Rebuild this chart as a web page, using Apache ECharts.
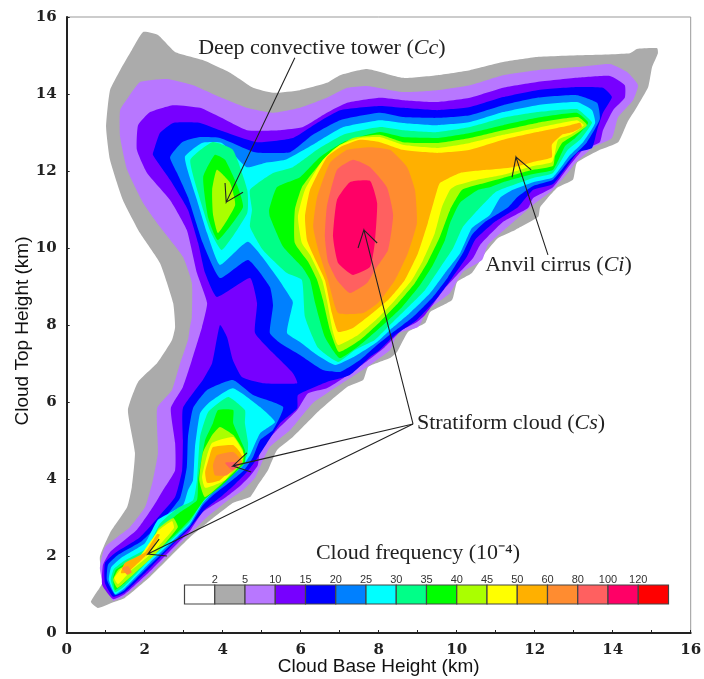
<!DOCTYPE html>
<html><head><meta charset="utf-8">
<style>html,body{margin:0;padding:0;background:#fff}#c{width:704px;height:679px}</style>
<script src="https://cdn.jsdelivr.net/npm/echarts@6/dist/echarts.min.js"></script>
</head><body><div id="c"></div>
<script>
// Isolines, as [cloud base km, cloud top km]
const contour2=[[1.96,15.61],[2.34,15.53],[2.78,15.09],[3.49,14.88],[4.19,14.55],[4.78,14.16],[5.29,14.03],[5.98,14.10],[6.67,14.29],[7.01,14.49],[7.70,14.65],[8.62,14.42],[9.50,14.49],[10.34,14.62],[11.19,14.83],[12.06,14.96],[13.34,15.01],[14.44,15.06],[14.62,15.17],[15.14,15.19],[15.16,15.06],[15.01,14.70],[14.91,14.18],[14.62,13.66],[14.37,13.25],[14.14,12.75],[13.67,12.55],[13.08,12.21],[12.98,11.77],[12.57,11.56],[12.14,11.06],[12.09,10.81],[11.50,10.47],[11.06,10.26],[10.73,9.87],[10.39,9.35],[10.01,9.12],[9.88,8.65],[9.32,8.34],[9.19,8.05],[8.75,7.82],[8.47,7.30],[8.29,7.14],[7.73,6.91],[7.60,6.57],[7.19,6.39],[6.49,5.79],[5.80,5.09],[5.39,4.75],[5.16,4.23],[4.90,3.84],[4.70,3.53],[4.27,3.38],[3.60,2.86],[3.16,2.49],[2.85,2.18],[2.14,1.46],[1.49,0.91],[1.19,0.80],[0.80,0.65],[0.62,0.81],[0.91,1.30],[0.85,1.97],[1.11,2.60],[1.55,3.27],[1.67,3.79],[1.75,4.68],[1.57,5.79],[1.83,6.52],[2.32,7.01],[2.70,7.61],[2.78,7.95],[2.73,8.57],[2.39,9.61],[1.88,10.39],[1.44,11.25],[1.11,12.29],[1.01,13.14],[1.11,14.10],[1.37,14.62],[1.67,15.14]];
const contour5=[[1.57,13.90],[1.88,14.31],[2.57,14.39],[3.24,14.23],[3.93,13.92],[4.62,13.64],[5.29,13.51],[5.98,13.64],[6.67,13.90],[7.19,14.16],[7.70,14.21],[8.62,14.05],[9.50,14.10],[10.34,14.23],[11.19,14.49],[12.06,14.62],[13.08,14.70],[13.93,14.78],[14.37,14.57],[14.65,14.23],[14.52,13.84],[14.14,13.40],[13.98,12.86],[13.50,12.62],[13.04,12.21],[12.91,12.03],[12.47,11.51],[11.96,11.12],[11.42,10.65],[10.80,10.08],[10.65,9.69],[10.16,9.38],[9.83,8.83],[9.26,8.39],[9.01,7.95],[8.50,7.79],[8.29,7.35],[7.70,6.91],[7.19,6.57],[6.31,5.97],[5.73,5.27],[5.21,4.83],[5.01,4.44],[4.83,4.03],[4.52,3.71],[4.14,3.45],[3.60,3.01],[3.16,2.57],[2.85,2.26],[2.14,1.53],[1.49,0.96],[1.19,0.84],[0.93,1.30],[0.85,1.69],[0.98,2.23],[1.62,2.75],[2.01,3.27],[2.21,3.97],[2.34,4.68],[2.32,5.84],[2.70,6.31],[2.91,7.01],[3.11,7.61],[3.16,7.95],[3.21,8.21],[3.21,9.09],[2.98,9.77],[2.39,10.55],[1.96,11.17],[1.55,12.03],[1.37,12.88],[1.37,13.58]];
const contour10=[[1.83,13.19],[2.14,13.53],[2.73,13.71],[3.42,13.64],[3.93,13.40],[4.62,13.06],[5.47,13.06],[6.06,13.14],[6.67,13.51],[7.19,13.77],[8.03,13.90],[8.62,13.84],[9.50,13.79],[10.34,13.90],[11.19,14.16],[12.06,14.31],[13.08,14.42],[13.93,14.47],[14.31,14.23],[14.31,13.90],[14.01,13.58],[13.75,13.06],[13.67,12.75],[13.24,12.55],[12.91,12.16],[12.47,11.58],[11.96,11.30],[11.83,11.04],[11.19,10.68],[10.60,10.08],[10.42,9.74],[10.01,9.30],[9.70,8.96],[9.19,8.26],[8.98,8.08],[8.60,7.87],[8.11,7.38],[7.70,7.06],[7.09,6.62],[6.67,6.36],[6.19,6.23],[5.91,5.79],[5.39,5.27],[4.96,4.75],[4.90,4.36],[4.70,4.08],[4.39,3.77],[4.06,3.51],[3.49,3.14],[3.16,2.65],[2.85,2.34],[2.14,1.61],[1.49,1.01],[1.19,0.88],[0.91,1.25],[0.93,1.77],[1.11,2.10],[1.80,2.68],[2.21,3.27],[2.47,3.71],[2.78,4.23],[2.78,4.94],[2.67,5.84],[2.98,6.39],[3.21,7.09],[3.47,7.95],[3.60,8.57],[3.34,9.35],[3.08,10.47],[2.65,11.25],[2.06,11.95],[1.80,12.55]];
const contour15=[[2.21,12.42],[2.26,12.62],[2.39,12.99],[2.73,13.25],[3.42,13.25],[3.93,13.06],[4.88,12.75],[5.80,12.86],[6.42,13.25],[7.01,13.58],[8.03,13.69],[8.62,13.64],[9.50,13.58],[10.34,13.66],[11.19,13.92],[12.06,14.10],[13.08,14.18],[13.75,14.16],[13.98,13.92],[13.75,13.51],[13.60,13.06],[13.47,12.60],[13.11,12.49],[12.91,12.23],[12.47,11.66],[11.96,11.51],[11.57,11.06],[10.98,10.68],[10.47,10.21],[10.26,9.77],[9.88,9.22],[9.50,8.70],[8.98,8.13],[8.42,7.74],[8.03,7.35],[7.78,7.17],[7.26,6.70],[6.67,6.52],[5.93,6.18],[5.91,5.84],[5.47,5.45],[5.14,4.94],[4.85,4.49],[4.62,4.18],[4.32,3.87],[3.98,3.56],[3.55,3.22],[3.16,2.73],[2.85,2.42],[2.14,1.69],[1.49,1.06],[1.19,0.94],[0.98,1.30],[0.98,1.82],[1.24,2.08],[1.88,2.49],[2.39,3.06],[2.78,3.53],[2.96,4.23],[2.98,5.01],[2.98,5.84],[3.49,6.57],[3.73,7.01],[3.93,8.00],[4.11,7.69],[4.26,7.09],[4.49,6.65],[5.03,6.49],[5.91,6.49],[5.80,6.75],[5.29,7.27],[4.83,7.79],[4.88,8.57],[4.70,9.22],[3.85,8.73],[3.55,9.35],[3.37,10.13],[3.11,10.99],[2.65,11.77]];
const contour20Upper=[[2.65,12.36],[2.96,12.75],[3.42,12.88],[3.93,12.86],[4.83,12.49],[5.73,12.49],[6.31,12.94],[7.01,13.32],[8.03,13.51],[8.62,13.40],[9.50,13.38],[10.34,13.45],[11.19,13.71],[12.06,13.90],[13.08,13.97],[13.60,13.77],[13.67,13.35],[13.34,12.75],[12.91,12.31],[12.47,11.77],[11.96,11.61],[11.55,11.32],[11.32,11.06],[10.73,10.68],[10.39,10.34],[10.16,9.87],[9.78,9.25],[9.39,8.73],[8.88,8.21],[8.34,7.79],[7.90,7.43],[7.52,7.09],[7.01,6.78],[6.57,6.83],[5.98,7.22],[5.47,7.53],[5.21,7.79],[5.29,8.52],[5.21,8.99],[4.65,9.69],[3.93,9.22],[3.49,10.13],[3.11,11.32],[2.83,11.95]];
const contour20Lower=[[3.24,5.84],[3.60,6.31],[4.26,6.57],[4.78,6.18],[5.55,5.87],[5.29,5.27],[4.96,5.01],[4.78,4.57],[4.55,4.23],[4.24,3.97],[3.75,3.58],[3.49,3.32],[3.16,2.78],[2.85,2.47],[2.14,1.77],[1.49,1.12],[1.24,0.99],[1.03,1.38],[1.06,1.77],[1.32,2.03],[1.93,2.39],[2.47,2.94],[2.91,3.51],[3.08,4.31],[3.11,5.09]];
const contour25Upper=[[3.03,12.36],[3.47,12.73],[3.98,12.73],[4.62,12.10],[5.08,12.21],[5.60,12.29],[6.42,12.75],[7.09,13.14],[8.03,13.32],[8.62,13.25],[9.50,13.19],[10.34,13.27],[11.19,13.53],[12.06,13.71],[13.08,13.79],[13.47,13.58],[13.55,13.25],[13.24,12.75],[12.91,12.42],[12.47,11.84],[11.96,11.71],[11.44,11.51],[11.11,11.30],[10.85,10.86],[10.39,10.52],[10.09,9.87],[9.70,9.35],[9.32,8.83],[8.80,8.31],[8.29,7.87],[7.96,7.56],[7.34,7.16],[6.88,6.96],[6.42,7.22],[5.98,7.56],[5.65,7.79],[5.80,8.57],[5.78,8.65],[5.39,9.25],[4.65,10.16],[3.93,9.56],[3.60,10.39],[3.34,11.25]];
const contour25Lower=[[3.42,5.71],[3.67,6.00],[4.26,6.36],[4.96,5.87],[5.34,5.48],[4.96,5.19],[4.70,4.62],[4.47,4.29],[4.14,4.03],[3.80,3.71],[3.49,3.38],[3.16,2.83],[2.85,2.52],[2.14,1.84],[1.49,1.17],[1.24,1.01],[1.08,1.38],[1.14,1.71],[1.39,1.95],[2.01,2.34],[2.34,2.94],[2.98,3.32],[3.11,3.71],[3.24,3.97],[3.29,4.83]];
const contour30Tower=[[3.17,12.29],[3.73,12.75],[4.26,12.55],[4.63,11.51],[4.63,10.91],[3.98,9.95],[3.67,10.47],[3.37,11.43]];
const contour30Main=[[4.75,10.99],[4.70,11.51],[5.29,11.95],[5.80,12.10],[6.42,12.55],[7.09,12.94],[8.03,13.14],[8.62,13.06],[9.50,13.01],[10.34,13.14],[11.19,13.38],[12.06,13.53],[13.08,13.61],[13.34,13.40],[13.47,13.25],[13.16,12.81],[12.85,12.55],[12.47,11.95],[11.96,11.82],[11.37,11.61],[10.99,11.45],[10.47,10.91],[10.16,10.55],[9.91,10.00],[9.57,9.48],[9.19,8.91],[8.73,8.44],[8.21,7.92],[7.90,7.61],[7.39,7.35],[6.96,7.04],[6.45,7.40],[6.11,8.21],[6.03,9.17],[5.65,9.35],[5.03,9.95],[4.70,10.55]];
const contour30Lower=[[3.63,5.74],[4.14,6.13],[4.57,5.79],[4.57,5.45],[4.65,4.94],[4.63,4.62],[4.39,4.31],[4.06,4.05],[3.73,3.71],[3.49,3.43],[3.16,2.88],[2.85,2.57],[2.14,1.92],[1.49,1.22],[1.24,1.06],[1.13,1.38],[1.21,1.66],[1.47,1.87],[2.06,2.21],[2.39,2.84],[2.85,3.25],[3.24,3.45],[3.34,3.97],[3.42,5.09]];
const contour35Tower=[[3.50,11.84],[3.80,12.42],[4.06,12.29],[4.39,11.58],[4.52,11.06],[3.88,10.21],[3.63,10.78]];
const contour35Main=[[5.19,10.99],[5.39,11.58],[5.98,11.84],[6.49,12.36],[7.09,12.75],[8.03,13.01],[8.62,12.88],[9.50,12.86],[10.34,12.99],[11.19,13.19],[12.06,13.38],[13.08,13.51],[13.37,13.25],[13.04,12.86],[12.78,12.65],[12.47,12.03],[11.96,11.92],[11.19,11.71],[10.85,11.58],[10.55,11.51],[10.08,11.17],[9.83,10.65],[9.70,10.21],[9.39,9.56],[9.06,9.04],[8.60,8.47],[8.11,8.00],[7.52,7.48],[7.00,7.14],[6.62,7.69],[6.37,8.57],[6.24,9.17],[6.03,9.51],[5.55,10.03],[5.21,10.81]];
const contour35Lower=[[3.88,5.79],[4.27,5.79],[4.27,5.45],[4.57,4.75],[4.57,4.42],[4.32,4.16],[3.99,3.84],[3.55,3.48],[3.16,2.94],[2.85,2.62],[2.14,1.97],[1.49,1.30],[1.24,1.12],[1.19,1.43],[1.26,1.64],[1.52,1.82],[2.11,2.13],[2.47,2.75],[2.91,3.14],[3.34,3.45],[3.37,3.97],[3.55,5.01],[3.75,5.45]];
const contour40Tower=[[3.73,11.51],[3.85,12.03],[4.19,11.69],[4.32,11.12],[3.88,10.39],[3.75,10.88]];
const contour40Main=[[5.85,10.99],[6.03,11.58],[6.42,12.10],[6.83,12.55],[7.34,12.86],[8.03,12.94],[8.62,12.75],[9.50,12.73],[10.34,12.86],[11.19,13.06],[12.06,13.25],[13.11,13.40],[13.34,13.19],[12.98,12.91],[12.70,12.73],[12.52,12.39],[12.47,12.13],[11.96,12.03],[11.19,11.82],[10.60,11.66],[10.14,11.51],[9.83,10.99],[9.57,10.29],[9.26,9.64],[8.93,9.09],[8.50,8.57],[8.03,8.08],[7.52,7.61],[6.98,7.30],[6.75,7.87],[6.57,8.65],[6.42,9.17],[6.19,9.64],[5.85,10.13]];
const contour40Lower=[[3.73,5.14],[3.93,5.35],[4.27,5.14],[4.52,4.75],[4.52,4.44],[4.24,4.13],[3.55,3.53],[3.40,3.97],[3.49,4.68]];
const contour40Tail=[[2.34,2.70],[2.73,2.99],[2.85,2.75],[2.26,2.03],[1.75,1.56],[1.30,1.17],[1.19,1.38],[1.32,1.64],[1.57,1.79],[2.14,2.13]];
const contour45Main=[[5.93,10.81],[6.11,11.51],[6.57,12.29],[7.01,12.68],[7.52,12.86],[8.03,12.88],[8.62,12.68],[9.50,12.60],[10.34,12.73],[11.19,12.94],[12.06,13.12],[13.08,13.32],[13.26,13.19],[12.91,12.94],[12.60,12.81],[12.52,12.47],[12.44,12.23],[11.96,12.13],[11.19,11.90],[10.52,11.77],[9.96,11.61],[9.83,11.51],[9.62,11.06],[9.44,10.39],[9.14,9.69],[8.85,9.17],[8.42,8.65],[7.98,8.18],[7.47,7.74],[6.96,7.48],[6.83,7.82],[6.67,8.65],[6.55,9.17],[6.24,9.82],[6.03,10.13]];
const contour45Lower=[[3.73,4.94],[4.27,5.09],[4.55,4.62],[4.32,4.31],[4.06,3.97],[3.55,3.77],[3.47,4.05],[3.60,4.62]];
const contour45Tail=[[2.34,2.65],[2.70,2.91],[2.75,2.73],[2.21,2.10],[1.67,1.64],[1.32,1.27],[1.22,1.43],[1.42,1.69],[1.88,2.00]];
const contour50Main=[[6.11,10.81],[6.24,11.51],[6.67,12.36],[7.01,12.62],[7.52,12.81],[8.03,12.75],[8.62,12.55],[9.50,12.47],[10.34,12.55],[11.19,12.81],[12.06,13.01],[12.91,13.19],[13.17,13.25],[13.21,13.14],[12.98,13.01],[12.70,12.94],[12.44,12.68],[12.44,12.36],[12.06,12.26],[11.44,12.10],[10.78,12.03],[10.09,11.95],[9.57,11.69],[9.50,11.51],[9.26,10.65],[9.01,9.87],[8.67,9.17],[8.24,8.65],[7.34,7.92],[6.96,7.82],[6.80,8.31],[6.62,9.17],[6.32,9.82],[6.16,10.21]];
const contour50Lower=[[3.75,4.83],[4.27,4.88],[4.50,4.57],[3.93,3.97],[3.60,3.90],[3.55,4.18],[3.67,4.62]];
const contour50Tail=[[2.32,2.57],[2.39,2.55],[2.14,2.13],[1.57,1.58],[1.39,1.56],[1.49,1.82],[2.01,2.10]];
const contour60Main=[[6.32,10.55],[6.42,11.32],[6.75,12.21],[7.19,12.55],[7.78,12.62],[8.29,12.55],[8.73,12.10],[8.93,11.51],[8.98,10.65],[8.75,9.87],[8.42,9.17],[7.98,8.57],[7.60,8.31],[6.96,8.31],[6.70,9.17],[6.45,9.95]];
const contour60Lower=[[3.85,4.62],[4.27,4.70],[4.50,4.44],[4.11,4.10],[3.80,4.10],[3.75,4.36]];
const contour60Tail=[[1.42,1.69],[1.57,1.74],[1.67,1.58],[1.55,1.51]];
const contour80Main=[[6.62,10.29],[6.67,11.06],[6.93,12.03],[7.34,12.29],[7.78,12.10],[8.21,11.58],[8.37,10.86],[8.24,9.95],[7.90,9.43],[7.70,9.09],[7.26,8.83],[6.93,9.17],[6.70,9.64]];
const contour80Lower=[[4.06,4.42],[4.32,4.44],[4.44,4.36],[4.24,4.23]];
const contour100=[[6.83,10.29],[6.93,11.25],[7.26,11.71],[7.78,11.74],[7.96,11.17],[7.90,10.13],[7.78,9.51],[7.34,9.30],[6.96,9.61]];

const levelLabels=['2','5','10','15','20','25','30','35','40','45','50','60','80','100','120'];
const levelColors=['#ffffff','#ababab','#b877ff','#7700ff','#0000ff','#0080ff','#00ffff','#00ff88','#00ff00','#aaff00','#ffff00','#ffb000','#ff8c30','#ff6060','#ff0066','#ff0000'];
// each line: from, tip, barb, tip, barb
const arrowDeep=[[5.85,14.94],[4.09,11.19],[4.06,11.69],[4.09,11.19],[4.52,11.45]];
const arrowAnvil=[[12.34,9.82],[11.52,12.36],[11.42,11.84],[11.52,12.36],[11.91,12.03]];
const arrowStratHigh=[[8.88,5.43],[7.62,10.47],[7.47,10.00],[7.62,10.47],[7.96,10.13]];
const arrowStratMid=[[8.88,5.43],[4.26,4.34],[4.62,4.68],[4.26,4.34],[4.73,4.18]];
const arrowStratLow=[[8.88,5.43],[2.08,2.05],[2.37,2.44],[2.08,2.05],[2.57,2.00]];
const notes=[
 {at:[3.37,15.19],text:'Deep convective tower ({i|Cc})'},
 {at:[10.73,9.56],text:'Anvil cirrus ({i|Ci})'},
 {at:[8.98,5.45],text:'Stratiform cloud ({i|Cs})'},
 {at:[6.39,2.08],text:'Cloud frequency (10⁻⁴)'}
];

const bands=[
 [contour2,1],[contour5,2],[contour10,3],[contour15,4],[contour20Upper,5],[contour20Lower,5],
 [contour25Upper,6],[contour25Lower,6],[contour30Tower,7],[contour30Main,7],[contour30Lower,7],
 [contour35Tower,8],[contour35Main,8],[contour35Lower,8],[contour40Tower,9],[contour40Main,9],[contour40Lower,9],[contour40Tail,9],
 [contour45Main,10],[contour45Lower,10],[contour45Tail,10],[contour50Main,11],[contour50Lower,11],[contour50Tail,11],
 [contour60Main,12],[contour60Lower,12],[contour60Tail,12],[contour80Main,13],[contour80Lower,13],[contour100,14]
];
const arrows=[arrowDeep,arrowAnvil,arrowStratHigh,arrowStratMid,arrowStratLow];
const serif='"Liberation Serif", serif';
const sans='"Liberation Sans", sans-serif';
const chart=echarts.init(document.getElementById('c'),null,{renderer:'canvas'});
chart.setOption({
 animation:false,
 backgroundColor:'#fff',
 grid:[
  {left:66.7,right:13.3,top:17,bottom:46,show:true,borderColor:'#999',borderWidth:1,backgroundColor:'transparent',outerBoundsMode:'none'},
  {left:184.5,width:484,top:585,height:19,show:false,outerBoundsMode:'none'}
 ],
 xAxis:[
  {type:'value',gridIndex:0,min:0,max:16,interval:2,name:'Cloud Base Height (km)',nameLocation:'middle',nameGap:24,nameMoveOverlap:false,
   nameTextStyle:{fontFamily:sans,fontSize:19,color:'#111'},
   axisLine:{show:true,lineStyle:{color:'#222',width:2}},
   axisTick:{show:true,inside:true,length:3,lineStyle:{color:'#222'}},
   minorTick:{show:true,splitNumber:2,length:3,lineStyle:{color:'#222'}},
   minorSplitLine:{show:false},splitLine:{show:false},
   axisLabel:{fontFamily:'"DejaVu Serif", serif',fontWeight:'bold',fontSize:15,color:'#222',margin:10,hideOverlap:false}},
  {type:'value',gridIndex:1,min:0,max:16,interval:1,position:'top',
   axisLine:{show:false},axisTick:{show:false},splitLine:{show:false},
   axisLabel:{fontFamily:sans,fontSize:11,color:'#333',margin:0,showMinLabel:false,showMaxLabel:false,
    formatter:v=>levelLabels[v-1]||''}}
 ],
 yAxis:[
  {type:'value',gridIndex:0,min:0,max:16,interval:2,name:'Cloud Top Height (km)',nameLocation:'middle',nameGap:34,nameMoveOverlap:false,
   nameTextStyle:{fontFamily:sans,fontSize:19,color:'#111',padding:[0,12,0,0]},
   axisLine:{show:true,lineStyle:{color:'#222',width:2}},
   axisTick:{show:true,inside:true,length:3,lineStyle:{color:'#222'}},
   splitLine:{show:false},
   axisLabel:{fontFamily:'"DejaVu Serif", serif',fontWeight:'bold',fontSize:15,color:'#222',margin:10}},
  {type:'value',gridIndex:1,min:0,max:1,show:false}
 ],
 series:[
  {type:'custom',xAxisIndex:0,yAxisIndex:0,silent:true,clip:false,z:2,
   data:bands.map((b,i)=>[i]),
   renderItem:(p,api)=>{
    const b=bands[api.value(0)];
    return {type:'polygon',shape:{points:b[0].map(q=>api.coord(q)),smooth:0.15},style:{fill:levelColors[b[1]]}};
   }},
  {type:'custom',xAxisIndex:0,yAxisIndex:0,silent:true,clip:false,z:3,
   data:arrows.map((a,i)=>[i]),
   renderItem:(p,api)=>{
    const a=arrows[api.value(0)];
    return {type:'polyline',shape:{points:a.map(q=>api.coord(q))},style:{fill:null,stroke:'#222',lineWidth:1.1}};
   }},
  {type:'custom',xAxisIndex:0,yAxisIndex:0,silent:true,clip:false,z:4,
   data:notes.map((n,i)=>[i]),
   renderItem:(p,api)=>{
    const n=notes[api.value(0)];
    const c=api.coord(n.at);
    return {type:'text',x:c[0],y:c[1],style:{text:n.text,fontFamily:serif,fontSize:22,fill:'#222',align:'left',verticalAlign:'middle',
      rich:{i:{fontFamily:serif,fontStyle:'italic',fontSize:22,fill:'#222'}}}};
   }},
  {type:'custom',xAxisIndex:1,yAxisIndex:1,silent:true,clip:false,z:2,
   data:levelColors.map((c,i)=>[i]),
   renderItem:(p,api)=>{
    const i=api.value(0);
    const a=api.coord([i,1]),b=api.coord([i+1,0]);
    return {type:'rect',shape:{x:a[0],y:a[1],width:b[0]-a[0],height:b[1]-a[1]},style:{fill:levelColors[i],stroke:'#444',lineWidth:1.2}};
   }}
 ]
});
</script></body></html>
